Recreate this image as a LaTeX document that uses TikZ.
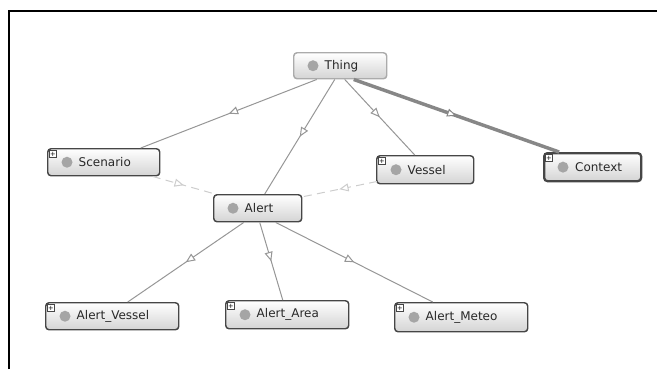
\documentclass[tikz,border=0pt]{standalone}
\usepackage{fontspec}
\setmainfont{DejaVu Sans}
\usetikzlibrary{arrows.meta,decorations.markings,calc}

\definecolor{edgegray}{RGB}{150,150,150}
\definecolor{dashgray}{RGB}{205,205,205}
\definecolor{ctxgray}{RGB}{135,135,135}
\definecolor{boxborder}{RGB}{70,70,70}
\definecolor{boxfill}{RGB}{212,212,212}
\definecolor{dotgray}{RGB}{165,165,165}
\definecolor{textgray}{RGB}{40,40,40}

\tikzset{every picture/.style={line width=0.75pt}}
\tikzset{
	cls/.style={rectangle, rounded corners=2.5, draw=boxborder, line width=1.1pt,
		top color=white, bottom color=boxfill, anchor=north west, inner sep=0pt,
		align=left, text=textgray, font=\fontsize{9}{10}\selectfont},
	plusbox/.style={rectangle, draw=boxborder, fill=white, line width=0.4pt,
		inner sep=0.2pt, minimum size=5pt, font=\fontsize{5}{5}\selectfont},
	isa/.style={draw=edgegray, postaction={decorate}, decoration={markings,
		mark=at position 0.5 with {\arrow{Triangle[open, length=7pt, width=6pt, line width=0.75pt, fill=white]}}}},
	isadash/.style={isa, draw=dashgray, dash pattern=on 6pt off 4pt},
}

\begin{document}
\begin{tikzpicture}[x=0.75pt,y=0.75pt,yscale=-1,xscale=1]
	\useasboundingbox (0,0) rectangle (657,369);
	
	% frame
	\draw [line width=1.6pt] (9,369) -- (9,11) -- (657,11);
	
	% classes
	\node [cls, draw=edgegray!80, text width=69.75pt, minimum height=19.5pt] (thing) at (293,52) {\hspace*{23.25pt}Thing};
	\node [cls, text width=84pt, minimum height=20.25pt] (scenario) at (47,148) {\hspace*{23.25pt}Scenario};
	\node [cls, text width=72.75pt, minimum height=21pt] (vessel) at (376,155) {\hspace*{23.25pt}Vessel};
	\node [cls, line width=1.7pt, text width=72.75pt, minimum height=21pt] (context) at (543,152) {\hspace*{23.25pt}Context};
	\node [cls, text width=66pt, minimum height=20.25pt] (alert) at (213,194) {\hspace*{23.25pt}Alert};
	\node [cls, text width=99.75pt, minimum height=20.25pt] (alertvessel) at (45,302) {\hspace*{23.25pt}Alert\_Vessel};
	\node [cls, text width=92.25pt, minimum height=21pt] (alertarea) at (225,300) {\hspace*{23.25pt}Alert\_Area};
	\node [cls, text width=99.75pt, minimum height=21.75pt] (alertmeteo) at (394,302) {\hspace*{23.25pt}Alert\_Meteo};
	
	% grey dots and expand boxes
	\foreach \n in {thing,scenario,vessel,context,alert,alertvessel,alertarea,alertmeteo}
		\fill [dotgray] ([xshift=15pt]\n.west) circle [radius=5.5];
	\foreach \n in {scenario,vessel,context,alertvessel,alertarea,alertmeteo}
		\node [plusbox] at ([xshift=4.5pt,yshift=4.5pt]\n.north west) {+};
	
	% subclass links
	\draw [isa] ($(thing.south)+(-23.5,0)$) -- ($(scenario.north)+(37,0)$);
	\draw [isa] ($(thing.south)+(-5.5,0)$) -- ($(alert.north)+(7,0)$);
	\draw [isa] ($(thing.south)+(4.5,0)$) -- ($(vessel.north)+(-10.5,0)$);
	\draw [isa, draw=ctxgray, line width=2.6pt] ($(thing.south)+(13.5,0)$) -- ($(context.north)+(-33.5,0)$);
	\draw [isadash] ($(scenario.south)+(49,0)$) -- ($(alert.north west)+(2,0)$);
	\draw [isadash] ($(vessel.south west)+(1,-3)$) -- ($(alert.north east)+(-1,3)$);
	\draw [isa] ($(alert.south)+(-14,0)$) -- ($(alertvessel.north)+(15.5,0)$);
	\draw [isa] ($(alert.south)+(2,0)$) -- ($(alertarea.north)+(-4.5,0)$);
	\draw [isa] ($(alert.south)+(18,0)$) -- ($(alertmeteo.north)+(-28.5,0)$);
	
\end{tikzpicture}
\end{document}
